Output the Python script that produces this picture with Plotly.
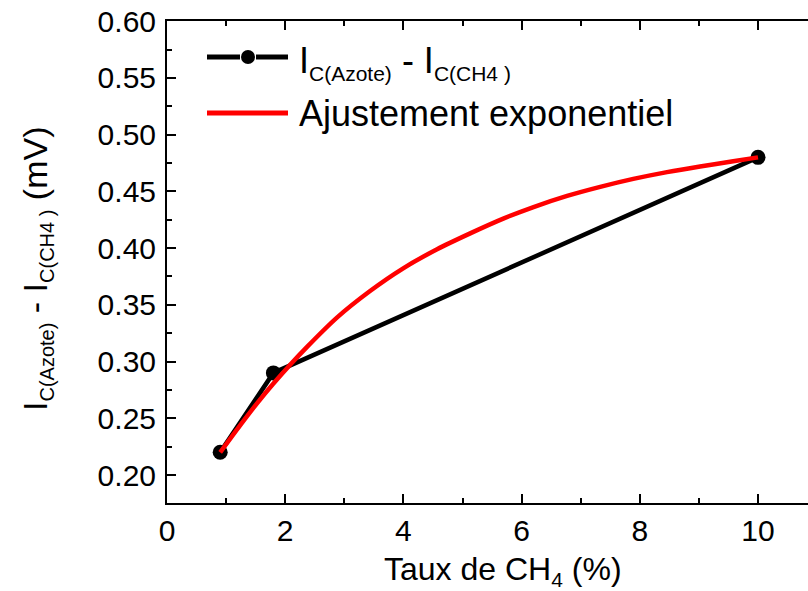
import plotly.graph_objects as go

# data
x_meas = [0.9, 1.8, 10.0]
y_meas = [0.22, 0.29, 0.48]

x_fit = [0.9, 1.24, 1.52, 1.79, 2.08, 2.37, 2.88, 3.43, 3.99, 4.57, 5.13, 5.69,
         6.19, 6.77, 7.33, 7.89, 8.46, 9.02, 9.58, 10.0]
y_fit = [0.220, 0.244, 0.263, 0.280, 0.297, 0.313, 0.339, 0.362, 0.382, 0.399,
         0.413, 0.426, 0.436, 0.446, 0.454, 0.461, 0.467, 0.472, 0.4765, 0.480]

x_ticks = [0, 2, 4, 6, 8, 10]
y_ticks = [0.20, 0.25, 0.30, 0.35, 0.40, 0.45, 0.50, 0.55, 0.60]

W, H = 808, 591
L, T, B = 167, 21, 503
R = W
FONT = "Arial, Liberation Sans, sans-serif"


def px(xp):
    return (xp - L) / (R - L)


def py(yp):
    return (B - yp) / (B - T)


def sub(txt, size):
    return "<sub><span style='font-size:%dpx'>%s</span></sub>" % (size, txt)


fig = go.Figure()
fig.add_trace(go.Scatter(x=x_meas, y=y_meas, mode="lines+markers",
                         line=dict(color="black", width=4.5),
                         marker=dict(color="black", size=15),
                         showlegend=False, cliponaxis=False))
fig.add_trace(go.Scatter(x=x_fit, y=y_fit, mode="lines",
                         line=dict(color="#ff0000", width=4.5, shape="spline", smoothing=0.8),
                         showlegend=False))

shapes = []
# legend entry 1: black line with marker
shapes.append(dict(type="line", xref="paper", yref="paper", x0=px(207), x1=px(240),
                   y0=py(57), y1=py(57), line=dict(color="black", width=5)))
shapes.append(dict(type="line", xref="paper", yref="paper", x0=px(256), x1=px(288),
                   y0=py(57), y1=py(57), line=dict(color="black", width=5)))
shapes.append(dict(type="circle", xref="paper", yref="paper", x0=px(241), x1=px(255),
                   y0=py(64), y1=py(50), fillcolor="black", line=dict(color="black", width=0)))
# legend entry 2: red line
shapes.append(dict(type="line", xref="paper", yref="paper", x0=px(207), x1=px(288),
                   y0=py(113), y1=py(113), line=dict(color="#ff0000", width=5)))

leg1 = "I" + sub("C(Azote)", 21) + " - I" + sub("C(CH4 )", 21)
ytitle = "I" + sub("C(Azote)", 20) + " - I" + sub("C(CH4 )", 20) + " (mV)"

annotations = [
    dict(text=leg1, xref="paper", yref="paper",
         x=px(297), y=py(57), xanchor="left", yanchor="middle", showarrow=False,
         font=dict(family=FONT, size=36, color="black"), yshift=-6),
    dict(text="Ajustement exponentiel", xref="paper", yref="paper",
         x=px(297), y=py(113), xanchor="left", yanchor="middle", showarrow=False,
         font=dict(family=FONT, size=36, color="black")),
    dict(text="Taux de CH" + sub("4", 21) + " (%)", xref="paper", yref="paper",
         x=px(503), y=py(571), xanchor="center", yanchor="middle", showarrow=False,
         font=dict(family=FONT, size=32, color="black")),
    dict(text=ytitle, xref="paper", yref="paper",
         x=px(37), y=py(269), xanchor="center", yanchor="middle", showarrow=False,
         textangle=-90, font=dict(family=FONT, size=34, color="black")),
]

fig.update_layout(
    width=W, height=H,
    margin=dict(l=L, r=W - R, t=T, b=H - B, autoexpand=False),
    paper_bgcolor="white", plot_bgcolor="white",
    font=dict(family=FONT, color="black"),
    shapes=shapes, annotations=annotations,
    showlegend=False,
)
fig.update_xaxes(range=[0, (R - L) / 59.1], tickvals=x_ticks,
                 ticktext=[str(v) for v in x_ticks], automargin=False,
                 showgrid=False, zeroline=False, showline=True, linecolor="black", linewidth=2,
                 mirror="ticks", ticks="inside", ticklen=9, tickwidth=2, tickcolor="black",
                 minor=dict(dtick=1, ticks="inside", ticklen=5, tickwidth=2, tickcolor="black"),
                 tickfont=dict(family=FONT, size=30, color="black"), ticklabelstandoff=0)
fig.update_yaxes(range=[0.6 - (B - T) / 1135.0, 0.6002], tickvals=y_ticks,
                 ticktext=["%.2f" % v for v in y_ticks], automargin=False,
                 showgrid=False, zeroline=False, showline=True, linecolor="black", linewidth=2,
                 mirror=False, ticks="inside", ticklen=9, tickwidth=2, tickcolor="black",
                 minor=dict(dtick=0.025, tick0=0.2, ticks="inside", ticklen=5, tickwidth=2,
                            tickcolor="black"),
                 tickfont=dict(family=FONT, size=30, color="black"), ticklabelstandoff=3)

fig.write_html("out.html", config={"displayModeBar": False},
               post_script="document.body.style.margin='0px';document.body.style.overflow='hidden';")
